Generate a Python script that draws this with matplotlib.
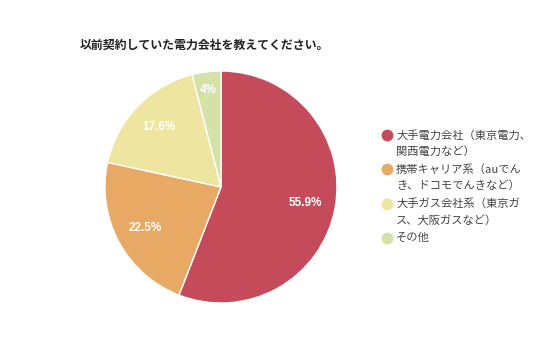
import matplotlib
matplotlib.use("Agg")
import matplotlib.pyplot as plt
import numpy as np

plt.rcParams['font.family'] = ['Noto Sans CJK JP', 'DejaVu Sans']

title = "以前契約していた電力会社を教えてください。"
categories = [
    "大手電力会社（東京電力、\n関西電力など）",
    "携帯キャリア系（auでん\nき、ドコモでんきなど）",
    "大手ガス会社系（東京ガ\nス、大阪ガスなど）",
    "その他",
]
values = [55.9, 22.5, 17.6, 4.0]
value_labels = ["55.9%", "22.5%", "17.6%", "4%"]
colors = ["#c54b5b", "#e8a965", "#ede5a0", "#d4e1a7"]

W, H = 536, 357
fig = plt.figure(figsize=(W / 100, H / 100), dpi=100)

# pie centred at ~ (221, 187) px, radius ~116 px
r_px = 116
ax = fig.add_axes([(221 - r_px) / W, 1 - (187 + r_px) / H,
                   2 * r_px / W, 2 * r_px / H])
wedges, texts = ax.pie(values, colors=colors, startangle=90, counterclock=False,
                       wedgeprops=dict(edgecolor="white", linewidth=1))
ax.set_aspect("auto")
ax.set_xlim(-1, 1)
ax.set_ylim(-1, 1)

for w, lab, v in zip(wedges, value_labels, values):
    mid = np.deg2rad((w.theta1 + w.theta2) / 2)
    dist = 0.84 if v < 5 else 0.74
    ax.text(dist * np.cos(mid), dist * np.sin(mid), lab, ha="center", va="center",
            color="white", fontsize=8.5, fontweight="bold",
            family=["Liberation Sans"])

fig.text(80 / W, 1 - 45 / H, title, fontsize=8.6, fontweight="bold",
         color="#222222", ha="left", va="center")

# legend drawn in a pixel-coordinate overlay axes
lax = fig.add_axes([0, 0, 1, 1], zorder=3)
lax.set_xlim(0, W)
lax.set_ylim(H, 0)
lax.axis("off")
y = 135
for cat, c in zip(categories, colors):
    lax.plot(387, y, marker="o", markersize=7.5, color=c, linestyle="none")
    for j, line in enumerate(cat.split("\n")):
        lax.text(396, y + 16.5 * j, line, fontsize=8.1, color="#444444",
                 ha="left", va="center")
    y += 34.3

fig.savefig("out.png", dpi=100)
